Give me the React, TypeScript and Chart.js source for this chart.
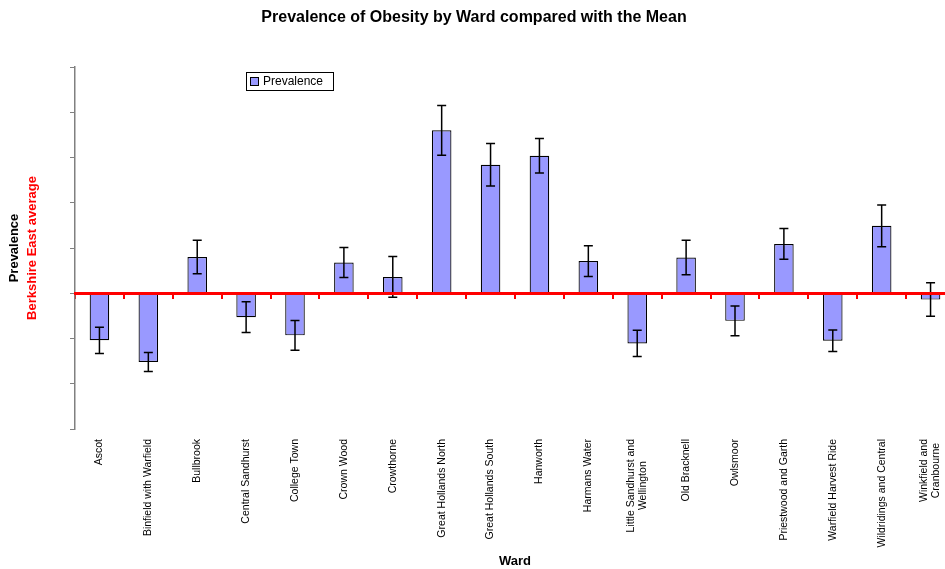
import React, { useEffect, useRef } from "react";
import { Chart, registerables } from "chart.js";

Chart.register(...registerables);

const wards: (string | string[])[] = [
  "Ascot",
  "Binfield with Warfield",
  "Bullbrook",
  "Central Sandhurst",
  "College Town",
  "Crown Wood",
  "Crowthorne",
  "Great Hollands North",
  "Great Hollands South",
  "Hanworth",
  "Harmans Water",
  ["Little Sandhurst and", "Wellington"],
  "Old Bracknell",
  "Owlsmoor",
  "Priestwood and Garth",
  "Warfield Harvest Ride",
  "Wildridings and Central",
  ["Winkfield and", "Cranbourne"],
];

// deviation of prevalence from the Berkshire East average (axis units)
const prevalence = [
  -1.04, -1.52, 0.8, -0.53, -0.93, 0.68, 0.36, 3.6, 2.84, 3.04, 0.71, -1.11, 0.79,
  -0.61, 1.09, -1.05, 1.49, -0.14,
];

// half-width of the confidence interval
const errors = [
  0.29, 0.21, 0.37, 0.34, 0.33, 0.33, 0.45, 0.55, 0.47, 0.38, 0.34, 0.29, 0.38, 0.33,
  0.34, 0.24, 0.46, 0.37,
];

const FONT = "'Liberation Sans', Arial, sans-serif";

const errorBarPlugin = {
  id: "errorBars",
  afterDatasetsDraw(chart: any) {
    const ctx = chart.ctx;
    const meta = chart.getDatasetMeta(0);
    const y = chart.scales.y;
    ctx.save();
    ctx.strokeStyle = "#000";
    ctx.lineWidth = 1.5;
    meta.data.forEach((bar: any, i: number) => {
      const x = bar.x;
      const top = y.getPixelForValue(prevalence[i] + errors[i]);
      const bot = y.getPixelForValue(prevalence[i] - errors[i]);
      ctx.beginPath();
      ctx.moveTo(x, top);
      ctx.lineTo(x, bot);
      ctx.moveTo(x - 4.5, top);
      ctx.lineTo(x + 4.5, top);
      ctx.moveTo(x - 4.5, bot);
      ctx.lineTo(x + 4.5, bot);
      ctx.stroke();
    });
    ctx.restore();
  },
};

// centre multi-line rotated category labels (block centred on the tick, lines centred on each other)
const centerLabelsPlugin = {
  id: "centerLabels",
  beforeDraw(chart: any) {
    const scale = chart.scales.x;
    if (!scale || !scale.getLabelItems) return;
    const items = scale.getLabelItems(chart.chartArea);
    const ctx = chart.ctx;
    items.forEach((item: any) => {
      if (item._centered) return;
      const lines = Array.isArray(item.label) ? item.label : null;
      if (!lines || lines.length < 2) return;
      const lh = item.font.lineHeight;
      ctx.save();
      ctx.font = item.font.string;
      const maxW = Math.max(...lines.map((l: string) => ctx.measureText(l).width));
      ctx.restore();
      item.textOffset -= ((lines.length - 1) * lh) / 2;
      item.options.textAlign = "center";
      item.options.translation = [item.options.translation[0], item.options.translation[1] + maxW / 2];
      item._centered = true;
    });
  },
};

const decorPlugin = {
  id: "decor",
  afterDraw(chart: any) {
    const ctx = chart.ctx;
    ctx.save();
    // main title
    ctx.fillStyle = "#000";
    ctx.font = `bold 16px ${FONT}`;
    ctx.textAlign = "center";
    ctx.textBaseline = "middle";
    ctx.fillText("Prevalence of Obesity by Ward compared with the Mean", 474, 18);

    // y-axis titles
    ctx.save();
    ctx.translate(14, 248);
    ctx.rotate(-Math.PI / 2);
    ctx.font = `bold 13px ${FONT}`;
    ctx.fillStyle = "#000";
    ctx.fillText("Prevalence", 0, 0);
    ctx.restore();
    ctx.save();
    ctx.translate(32, 248);
    ctx.rotate(-Math.PI / 2);
    ctx.font = `bold 13px ${FONT}`;
    ctx.fillStyle = "#FF0000";
    ctx.fillText("Berkshire East average", 0, 0);
    ctx.restore();

    // legend
    ctx.fillStyle = "#fff";
    ctx.fillRect(246.5, 72.5, 87, 18);
    ctx.strokeStyle = "#000";
    ctx.lineWidth = 1;
    ctx.strokeRect(246.5, 72.5, 87, 18);
    ctx.fillStyle = "#9999FF";
    ctx.fillRect(250.5, 77.5, 8, 8);
    ctx.strokeRect(250.5, 77.5, 8, 8);
    ctx.fillStyle = "#000";
    ctx.font = `12px ${FONT}`;
    ctx.textAlign = "left";
    ctx.fillText("Prevalence", 263, 82);
    ctx.restore();
  },
};

export default function App() {
  const ref = useRef<HTMLCanvasElement | null>(null);
  useEffect(() => {
    document.body.style.margin = "0";
    document.body.style.overflow = "hidden";
    const canvas = ref.current!;
    const chart = new Chart(canvas, {
      type: "bar",
      data: {
        labels: wards,
        datasets: [
          {
            label: "Prevalence",
            data: prevalence,
            backgroundColor: "#9999FF",
            borderColor: "#000",
            borderWidth: 1.2,
            categoryPercentage: 1,
            barPercentage: 0.4,
            xAxisID: "x",
          },
        ],
      },
      options: {
        animation: false,
        responsive: false,
        maintainAspectRatio: false,
        layout: { padding: { top: 67, left: 0, right: 0, bottom: 0 } },
        plugins: {
          legend: { display: false },
          title: { display: false },
          tooltip: { enabled: false },
        },
        scales: {
          x: {
            type: "category",
            position: "bottom",
            offset: true,
            grid: { display: false, drawTicks: false },
            border: { display: false },
            ticks: {
              color: "#000",
              font: { family: FONT, size: 10.5, lineHeight: 1.15 },
              maxRotation: 90,
              minRotation: 90,
              autoSkip: false,
              padding: 10,
            },
            title: {
              display: true,
              text: "Ward",
              color: "#000",
              font: { family: FONT, size: 13, weight: "bold" },
              padding: { top: 0, bottom: 0 },
            },
            afterFit(scale: any) {
              scale.height = 140;
              scale.paddingLeft = 0;
              scale.paddingRight = 0;
            },
          },
          x2: {
            type: "category",
            position: { y: 0 } as any,
            offset: true,
            grid: {
              display: true,
              drawOnChartArea: false,
              drawTicks: true,
              tickLength: 4,
              color: "#FF0000",
              lineWidth: 2,
              offset: true,
            },
            border: { display: true, color: "#FF0000", width: 3, z: 5 },
            ticks: { display: false, autoSkip: false },
            afterFit(scale: any) {
              scale.paddingLeft = 0;
              scale.paddingRight = 0;
            },
          },
          y: {
            min: -3,
            max: 5,
            ticks: { display: false, stepSize: 1 },
            grid: {
              display: true,
              drawOnChartArea: false,
              drawTicks: true,
              tickLength: 5,
              color: "#808080",
              lineWidth: 1,
            },
            border: { display: true, color: "#808080", width: 1.5 },
            afterFit(scale: any) {
              scale.width = 75;
            },
          },
        },
      },
      plugins: [errorBarPlugin, centerLabelsPlugin, decorPlugin],
    } as any);
    return () => chart.destroy();
  }, []);
  return (
    <div style={{ width: 945, height: 569, overflow: "hidden" }}>
      <canvas ref={ref} width={955} height={569} style={{ display: "block" }} />
    </div>
  );
}
